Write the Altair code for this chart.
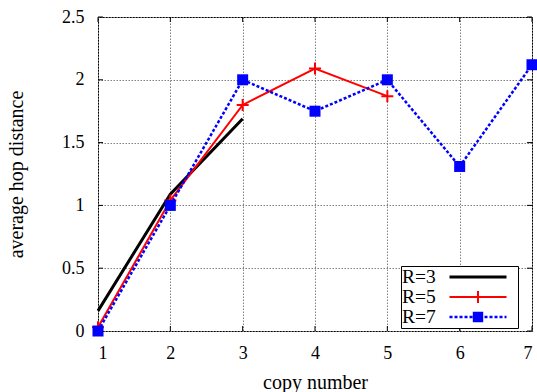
import altair as alt
import pandas as pd

# ---- data ----
copy_r3 = [1, 2, 3]
hop_r3 = [0.16, 1.09, 1.69]
copy_r5 = [1, 2, 3, 4, 5]
hop_r5 = [0.03, 1.04, 1.80, 2.09, 1.87]
copy_r7 = [1, 2, 3, 4, 5, 6, 7]
hop_r7 = [0.0, 1.00, 2.00, 1.75, 2.00, 1.31, 2.12]
series_names = ["R=3", "R=5", "R=7"]
series_colors = ["#000000", "#ff0000", "#0000ff"]
x_ticks = [1, 2, 3, 4, 5, 6, 7]
y_ticks = [0, 0.5, 1, 1.5, 2, 2.5]

df = pd.DataFrame({
    "copy": copy_r3 + copy_r5 + copy_r7,
    "hop": hop_r3 + hop_r5 + hop_r7,
    "series": ["R=3"] * len(copy_r3) + ["R=5"] * len(copy_r5) + ["R=7"] * len(copy_r7),
})
xt = pd.DataFrame({"copy": x_ticks})
yt = pd.DataFrame({"hop": y_ticks})

W, H = 434, 314
FONT = "Liberation Serif"

# legend sample symbols (unit = 10 px at symbolSize 400)
def rect(x0, x1, y0, y1):
    return f"M{x0:.3f},{y0:.3f}H{x1:.3f}V{y1:.3f}H{x0:.3f}Z"

L = 2.85
p3 = rect(-L, L, -0.15, 0.15) + "M3.9,0L3.9,0"
p5 = rect(-L, L, -0.1, 0.1) + rect(-0.1, 0.1, -0.6, 0.6) + "M3.9,0L3.9,0"
segs = []
x = -L
while x < L:
    segs.append(rect(x, min(x + 0.3, L), -0.12, 0.12))
    x += 0.5
p7 = "".join(segs) + rect(-0.52, 0.52, -0.52, 0.52) + "M3.9,0L3.9,0"
legend_paths = [p3, p5, p7]

xs = alt.Scale(domain=[1, 7], nice=False, zero=False)
ys = alt.Scale(domain=[0, 2.5], nice=False)

x_enc = alt.X("copy:Q", scale=xs, axis=alt.Axis(
    values=x_ticks, format="d", title="copy number",
    titleX=W / 2, titleY=57, titleBaseline="alphabetic", titleAlign="center",
    labelPadding=13))
y_enc = alt.Y("hop:Q", scale=ys, axis=alt.Axis(
    values=y_ticks, format=".1~f", title="average hop distance",
    titleX=-82, titleY=H / 2, titleAngle=270, titleBaseline="middle", titleAlign="center",
    labelPadding=14))

tick_style = dict(color="black", strokeWidth=1)
tick_left = alt.Chart(yt).mark_rule(**tick_style).encode(y=y_enc, x=alt.value(0), x2=alt.value(5))
tick_right = alt.Chart(yt).mark_rule(**tick_style).encode(y=y_enc, x=alt.value(W - 5), x2=alt.value(W))
tick_bottom = alt.Chart(xt).mark_rule(**tick_style).encode(x=x_enc, y=alt.value(H), y2=alt.value(H - 5))
tick_top = alt.Chart(xt).mark_rule(**tick_style).encode(x=x_enc, y=alt.value(0), y2=alt.value(5))

base = alt.Chart(df)
line3 = base.transform_filter("datum.series == 'R=3'").mark_line(
    color="#000000", strokeWidth=3).encode(x=x_enc, y=y_enc)
line5 = base.transform_filter("datum.series == 'R=5'").mark_line(
    color="#ff0000", strokeWidth=2).encode(x=x_enc, y=y_enc)
pts5 = base.transform_filter("datum.series == 'R=5'").mark_point(
    shape="M-1,0H1M0,-1V1", size=144, filled=False, color="#ff0000",
    strokeWidth=2, opacity=1).encode(x=x_enc, y=y_enc)
line7 = base.transform_filter("datum.series == 'R=7'").mark_line(
    color="#0000ff", strokeWidth=2.5, strokeDash=[3, 2]).encode(x=x_enc, y=y_enc)
pts7 = base.transform_filter("datum.series == 'R=7'").mark_point(
    shape="square", size=121, filled=True, color="#0000ff", opacity=1).encode(x=x_enc, y=y_enc)

leg = alt.Legend(orient="none", legendX=303, legendY=249, title=None)
legend_layer = base.transform_filter("datum.copy < 0").mark_point(filled=True, opacity=1).encode(
    x=x_enc, y=y_enc,
    color=alt.Color("series:N", scale=alt.Scale(domain=series_names, range=series_colors), legend=leg),
    shape=alt.Shape("series:N", scale=alt.Scale(domain=series_names, range=legend_paths), legend=leg),
)

chart = alt.layer(
    tick_left, tick_right, tick_bottom, tick_top,
    line3, line5, pts5, line7, pts7, legend_layer,
).properties(
    width=W, height=H,
    autosize=alt.AutoSizeParams(type="none"),
    padding={"left": 98, "top": 17, "right": 5, "bottom": 61},
    background="white",
).configure_view(
    stroke="black", strokeWidth=1,
).configure_axis(
    labelFont=FONT, labelFontSize=18, labelColor="black",
    titleFont=FONT, titleFontSize=20, titleFontWeight="normal", titleColor="black",
    domain=False, ticks=False,
    grid=True, gridColor="#808080", gridDash=[1.5, 1.5], gridWidth=1, gridOpacity=1,
).configure_legend(
    labelFont=FONT, labelFontSize=19.5, labelColor="black", labelLimit=0,
    symbolSize=400, symbolStrokeWidth=0, symbolOpacity=1,
    strokeColor="black", fillColor="white", padding=1, cornerRadius=0,
    labelOffset={"expr": "-86"}, symbolOffset=66, rowPadding=0, labelAlign="left",
)

chart.save("out.html", embed_options={"renderer": "svg", "actions": False})
